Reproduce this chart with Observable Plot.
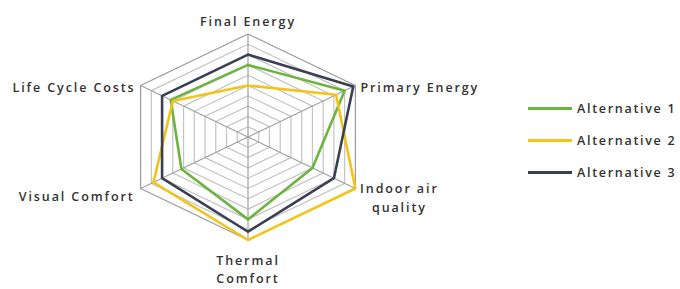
<!DOCTYPE html>
<html>
<head>
<meta charset="utf-8">
<script src="https://cdn.jsdelivr.net/npm/d3@7"></script>
<script src="https://cdn.jsdelivr.net/npm/@observablehq/plot@0.6"></script>
<style>
  body { margin: 0; background: #fff; font-family: "Open Sans", sans-serif; }
  #wrap { position: relative; width: 680px; height: 289px; }
  #legend { position: absolute; left: 528px; top: 92px; font-family: "Open Sans", sans-serif; font-weight: 600; font-size: 12.5px; letter-spacing: 1.7px; color: #333; }
  #legend .row { display: flex; align-items: center; height: 32px; }
  #legend .sw { width: 44px; height: 3px; margin-right: 5px; }
  svg text { letter-spacing: 1.9px; }
</style>
</head>
<body>
<div id="wrap"><div id="chart"></div><div id="legend"></div></div>
<script>
// Axes, clockwise from top
const axes = ["Final Energy", "Primary Energy", "Indoor air\nquality", "Thermal\nComfort", "Visual Comfort", "Life Cycle Costs"];
const seriesNames = ["Alternative 1", "Alternative 2", "Alternative 3"];
const seriesColors = ["#6cb33f", "#f2c318", "#3b3f52"];
const alt1 = [0.7, 0.9, 0.6, 0.8, 0.62, 0.72];
const alt2 = [0.5, 0.82, 1.0, 1.0, 0.88, 0.7];
const alt3 = [0.8, 0.98, 0.8, 0.92, 0.8, 0.8];
const ringLevels = [0.1, 0.2, 0.3, 0.4, 0.5, 0.6, 0.7, 0.8, 0.9, 1.0];

const angle = i => i * Math.PI / 3;
const pt = (i, r) => ({x: r * Math.sin(angle(i)), y: r * Math.cos(angle(i))});

// rings
const rings = [];
ringLevels.forEach(r => {
  for (let i = 0; i <= axes.length; i++) rings.push({...pt(i % axes.length, r), ring: r});
});
// spokes
const spokes = axes.map((a, i) => ({x1: 0, y1: 0, x2: pt(i, 1).x, y2: pt(i, 1).y}));
// series
const seriesData = [alt1, alt2, alt3];
const lines = [];
seriesData.forEach((vals, s) => {
  for (let i = 0; i <= vals.length; i++) lines.push({...pt(i % vals.length, vals[i % vals.length]), series: seriesNames[s]});
});
// labels
const labelStyle = [
  {textAnchor: "middle", dx: 0, dy: -14},
  {textAnchor: "start", dx: 5, dy: 0},
  {textAnchor: "middle", dx: 44, dy: 8},
  {textAnchor: "middle", dx: 0, dy: 28},
  {textAnchor: "end", dx: -6, dy: 6},
  {textAnchor: "end", dx: -5, dy: 0}
];
const labels = axes.map((a, i) => ({...pt(i, 1), label: a}));

const cx = 247.5, cy = 136.5, RX = 124, RY = 103;
const textMarks = labels.map((d, i) => Plot.text([d], {
  x: "x", y: "y", text: "label", ...labelStyle[i],
  fontSize: 12.5, fontWeight: 600, fill: "#333", lineHeight: 1.5
}));

const chart = Plot.plot({
  width: 680, height: 289,
  margin: 0,
  x: {domain: [-1, 1], range: [cx - RX, cx + RX], axis: null},
  y: {domain: [-1, 1], range: [cy + RY, cy - RY], axis: null},
  color: {domain: seriesNames, range: seriesColors},
  style: {fontFamily: "'Open Sans', sans-serif", background: "white"},
  marks: [
    Plot.line(rings, {x: "x", y: "y", z: "ring", stroke: d => d.ring === 1 ? "#9a9a9a" : "#c4c4c4", strokeWidth: 1.2}),
    Plot.link(spokes, {x1: "x1", y1: "y1", x2: "x2", y2: "y2", stroke: "#a0a0a0", strokeWidth: 1.2}),
    Plot.line(lines, {x: "x", y: "y", z: "series", stroke: "series", strokeWidth: 2.6}),
    ...textMarks
  ]
});
document.getElementById("chart").appendChild(chart);

const legend = document.getElementById("legend");
seriesNames.forEach((n, i) => {
  const row = document.createElement("div");
  row.className = "row";
  row.innerHTML = `<span class="sw" style="background:${seriesColors[i]}"></span><span>${n}</span>`;
  legend.appendChild(row);
});
</script>
</body>
</html>
